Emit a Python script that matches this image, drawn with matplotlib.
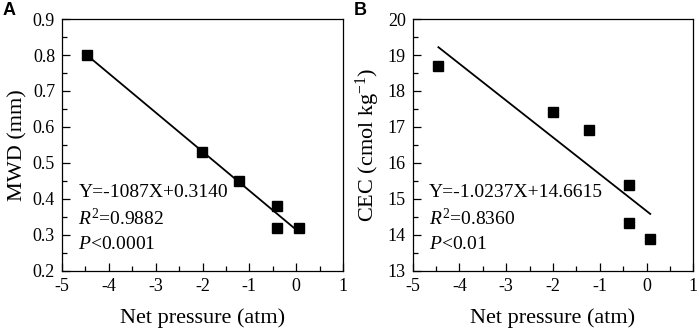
import numpy as np
import matplotlib
matplotlib.use("Agg")
import matplotlib.pyplot as plt
from matplotlib.ticker import MultipleLocator

plt.rcParams["font.family"] = ["Liberation Serif", "DejaVu Serif"]
plt.rcParams["mathtext.fontset"] = "custom"
plt.rcParams["mathtext.rm"] = "Liberation Serif"
plt.rcParams["mathtext.it"] = "Liberation Serif:italic"
plt.rcParams["axes.unicode_minus"] = False

# panel A: MWD vs net pressure
x_a = [-4.46, -2.02, -1.22, -0.41, -0.40, 0.07]
y_a = [0.80, 0.531, 0.450, 0.381, 0.320, 0.320]
fit_a = (-0.1087, 0.3140)
txt_a = ["Y=-1087X+0.3140", r"$\it{R}^2$=0.9882", r"$\it{P}$<0.0001"]

# panel B: CEC vs net pressure
x_b = [-4.45, -2.01, -1.22, -0.38, -0.37, 0.08]
y_b = [18.70, 17.41, 16.92, 15.39, 14.34, 13.89]
fit_b = (-1.0237, 14.6615)
txt_b = ["Y=-1.0237X+14.6615", r"$\it{R}^2$=0.8360", r"$\it{P}$<0.01"]

xticks = [-5, -4, -3, -2, -1, 0, 1]


def draw(ax, xs, ys, fit, texts, ylim, ystep, yfmt, ylabel, letter):
    xs = np.array(xs)
    ax.plot(xs, ys, "s", color="black", ms=6.5, zorder=3)
    xl = np.array([xs.min(), xs.max()])
    ax.plot(xl, fit[0] * xl + fit[1], color="black", lw=1.3)
    ax.set_xlim(-5, 1)
    ax.set_ylim(*ylim)
    ax.set_xticks(xticks)
    ax.set_xticklabels([str(t) for t in xticks])
    ax.xaxis.set_minor_locator(MultipleLocator(0.5))
    yt = np.arange(ylim[0], ylim[1] + ystep / 2, ystep)
    ax.set_yticks(yt)
    ax.set_yticklabels([yfmt.format(v) for v in yt])
    ax.yaxis.set_minor_locator(MultipleLocator(ystep / 2))
    ax.tick_params(which="both", direction="in", top=False, right=False,
                   labelsize=13, width=0.9, pad=5)
    ax.tick_params(which="major", length=6)
    ax.tick_params(which="minor", length=3.5)
    for s in ax.spines.values():
        s.set_linewidth(0.9)
    ax.set_xlabel("Net pressure (atm)", fontsize=16, labelpad=10)
    ax.set_ylabel(ylabel, fontsize=16, labelpad=4)
    for i, t in enumerate(texts):
        ax.text(0.058, 0.309 - i * 0.103, t, transform=ax.transAxes,
                fontsize=14, va="center", ha="left")
    ax.text(-0.21, 1.032, letter, transform=ax.transAxes, fontsize=13,
            fontweight="bold", family="Liberation Sans", va="center", ha="left")


fig = plt.figure(figsize=(6.99, 3.36), dpi=100)
ax1 = fig.add_axes([0.0887, 0.1943, 0.402, 0.749])
ax2 = fig.add_axes([0.5904, 0.1943, 0.4014, 0.749])

draw(ax1, x_a, y_a, fit_a, txt_a, (0.2, 0.9), 0.1, "{:.1f}", "MWD (mm)", "A")
draw(ax2, x_b, y_b, fit_b, txt_b, (13, 20), 1, "{:.0f}",
     r"CEC (cmol kg$^{-1}$)", "B")

fig.savefig("out.png", dpi=100)
